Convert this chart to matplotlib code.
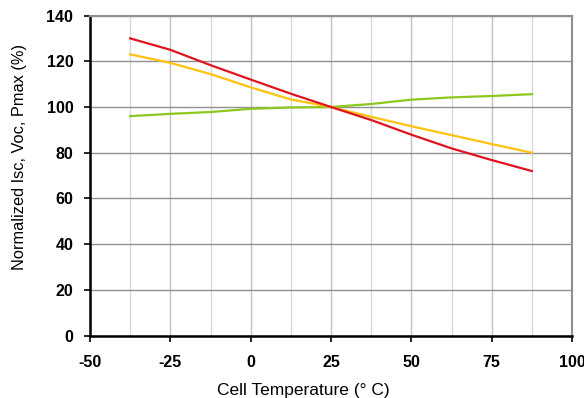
import matplotlib
matplotlib.use("Agg")
import matplotlib.pyplot as plt
import numpy as np

temps = [-37.5, -25, -12.5, 0, 12.5, 25, 37.5, 50, 62.5, 75, 87.5]
pmax = [130, 125, 118.3, 112, 105.8, 100, 94.3, 87.9, 81.9, 76.8, 72]
voc = [123, 119.3, 114.4, 108.6, 103.3, 100, 95.7, 91.6, 87.7, 83.8, 80]
isc = [96, 97, 97.8, 99.2, 99.8, 100, 101.3, 103.2, 104.2, 104.8, 105.6]
xticks = [-50, -25, 0, 25, 50, 75, 100]
yticks = [0, 20, 40, 60, 80, 100, 120, 140]

plt.rcParams['font.family'] = ['Liberation Sans', 'DejaVu Sans']
fig = plt.figure(figsize=(5.84, 3.98), dpi=100)
ax = fig.add_axes([90/584, 1-335.7/398, 482/584, 320.2/398])

ax.set_xlim(-50, 100)
ax.set_ylim(0, 140)
ax.set_xticks(xticks)
ax.set_yticks(yticks)
ax.set_xticks(np.arange(-50, 101, 12.5), minor=True)
ax.tick_params(axis='x', which='minor', length=0)
ax.grid(True, which='minor', axis='x', color='#d8d8d8', lw=1)
ax.grid(True, which='major', axis='x', color='#c0c0c0', lw=1)
ax.grid(True, which='major', axis='y', color='#909090', lw=1)
ax.set_axisbelow(True)

ax.plot(temps, isc, color='#8cc81e', lw=1.6, zorder=3)
ax.plot(temps, voc, color='#ffc20e', lw=1.6, zorder=4)
ax.plot(temps, pmax, color='#e0141e', lw=1.6, zorder=5)

for s in ['left', 'bottom']:
    ax.spines[s].set_color('black')
    ax.spines[s].set_linewidth(1.8)
for s in ['top', 'right']:
    ax.spines[s].set_color('#909090')
    ax.spines[s].set_linewidth(1.5)

ax.tick_params(axis='both', which='major', labelsize=11.5, length=4, width=1.2, color='black')
ax.tick_params(axis='x', which='major', pad=10)
ax.tick_params(axis='y', which='major', pad=8)
ax.set_xticklabels([str(t) for t in xticks], fontweight='bold')
ax.set_yticklabels([str(t) for t in yticks], fontweight='bold')

fig.text(303/584, 1-391/398, 'Cell Temperature (° C)', fontsize=12.5,
         ha='center', va='center')
fig.text(20/584, 1-157/398, 'Normalized Isc, Voc, Pmax (%)', fontsize=11.8,
         ha='center', va='center', rotation=90)

fig.savefig('out.png', dpi=100)
